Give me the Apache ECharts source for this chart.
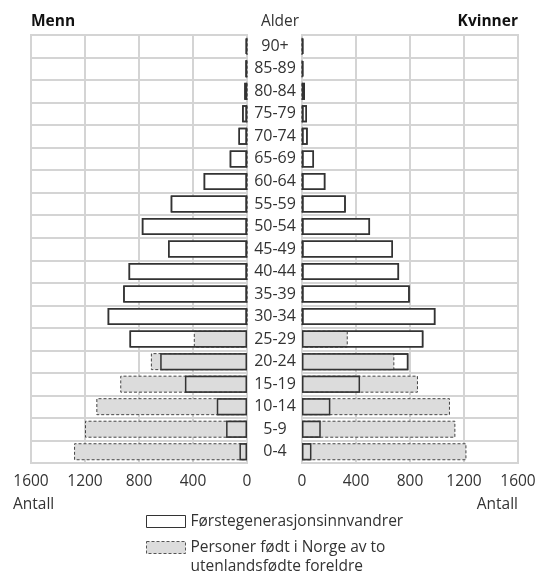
<!DOCTYPE html>
<html>
<head>
<meta charset="utf-8">
<script src="https://cdn.jsdelivr.net/npm/echarts@6/dist/echarts.min.js"></script>
<style>html,body{margin:0;padding:0;background:#fff}#c{width:539px;height:571px}</style>
</head>
<body>
<div id="c"></div>
<script>
// Age groups, youngest first (bottom to top)
const ages = ['0-4','5-9','10-14','15-19','20-24','25-29','30-34','35-39','40-44','45-49','50-54','55-59','60-64','65-69','70-74','75-79','80-84','85-89','90+'];
// Men
const menFirstGen = [56,155,224,460,643,870,1032,917,877,585,779,565,321,128,63,36,20,12,10];
const menBornNorway = [1281,1200,1116,939,712,394,0,0,0,0,0,0,0,0,0,0,0,0,0];
// Women
const womenFirstGen = [70,139,210,430,788,899,988,798,719,674,504,324,173,89,42,37,22,10,10];
const womenBornNorway = [1218,1136,1096,859,684,339,0,0,0,0,0,0,0,0,0,0,0,0,0];
const tickValues = [0,400,800,1200,1600];

const nameFirst = 'Førstegenerasjonsinnvandrer';
const nameNorway = 'Personer født i Norge av to\nutenlandsfødte foreldre';
const FONT = 'Open Sans';
const gridColor = '#d4d4d4';
const dark = '#333333';
const greyFill = '#dcdcdc';

const chart = echarts.init(document.getElementById('c'), null, {renderer:'canvas'});

function xAx(idx, inverse){
  return {
    type:'value', gridIndex: idx, min:0, max:1600, interval:400, inverse: inverse,
    axisLine:{show:false}, axisTick:{show:false},
    splitLine:{show:true, lineStyle:{color:gridColor, width:2}},
    axisLabel:{color:dark, fontFamily:FONT, fontSize:15.5, margin:11,
      formatter: v => tickValues.includes(v) ? String(v) : ''}
  };
}
function yAx(idx, showLabels){
  return {
    type:'category', gridIndex: idx, data: ages, position: idx===0 ? 'right' : 'left',
    axisLine:{show:false}, axisTick:{show:false},
    splitLine:{show:true, lineStyle:{color:gridColor, width:2}},
    axisLabel:{show:showLabels, color:dark, fontFamily:FONT, fontSize:16, align:'center', margin:28}
  };
}
function bars(idx, first, norway){
  const common = {type:'bar', xAxisIndex:idx, yAxisIndex:idx, barWidth:17, barGap:'-100%', animation:false, silent:true};
  return [
    Object.assign({}, common, {name:nameFirst, data:first,
      itemStyle:{color:'#ffffff', borderColor:dark, borderWidth:1.5}}),
    Object.assign({}, common, {name:nameNorway, data:norway,
      itemStyle:{color:greyFill, borderColor:'#444', borderWidth:1, borderType:[3,2]}}),
    Object.assign({}, common, {name:nameFirst, data:first,
      itemStyle:{color:'rgba(0,0,0,0)', borderColor:dark, borderWidth:1.5}})
  ];
}

const titleStyle = {fontFamily:FONT, fontSize:15.5, color:dark, fontWeight:'normal'};
const boldStyle = Object.assign({}, titleStyle, {fontWeight:'bold', color:'#111'});
chart.setOption({
  animation:false,
  grid:[
    {left:31, top:35, width:216, height:428, show:true, borderColor:gridColor, borderWidth:2, backgroundColor:'transparent'},
    {left:302, top:35, width:216, height:428, show:true, borderColor:gridColor, borderWidth:2, backgroundColor:'transparent'}
  ],
  xAxis:[xAx(0,true), xAx(1,false)],
  yAxis:[yAx(0,true), yAx(1,false)],
  series:[].concat(bars(0, menFirstGen, menBornNorway), bars(1, womenFirstGen, womenBornNorway)),
  title:[
    {text:'Menn', left:26, top:9, textStyle:boldStyle},
    {text:'Alder', left:275, top:9, textAlign:'center', textStyle:titleStyle},
    {text:'Kvinner', right:16, top:9, textStyle:boldStyle},
    {text:'Antall', left:8, top:492, textStyle:titleStyle},
    {text:'Antall', right:16, top:492, textStyle:titleStyle}
  ],
  legend:[
    {data:[nameFirst], left:146, top:512, padding:0, itemWidth:39, itemHeight:12, itemGap:0, selectedMode:false,
      icon:'rect', itemStyle:{color:'#ffffff', borderColor:dark, borderWidth:1},
      textStyle:{fontFamily:FONT, fontSize:15.5, color:dark, lineHeight:19}},
    {data:[nameNorway], left:146, top:519, padding:0, itemWidth:39, itemHeight:12, itemGap:0, selectedMode:false,
      icon:'rect', itemStyle:{color:greyFill, borderColor:'#555', borderWidth:1, borderType:[3,2]},
      formatter: n => '\n' + n,
      textStyle:{fontFamily:FONT, fontSize:15.5, color:dark, lineHeight:19}}
  ]
});
</script>
</body>
</html>
